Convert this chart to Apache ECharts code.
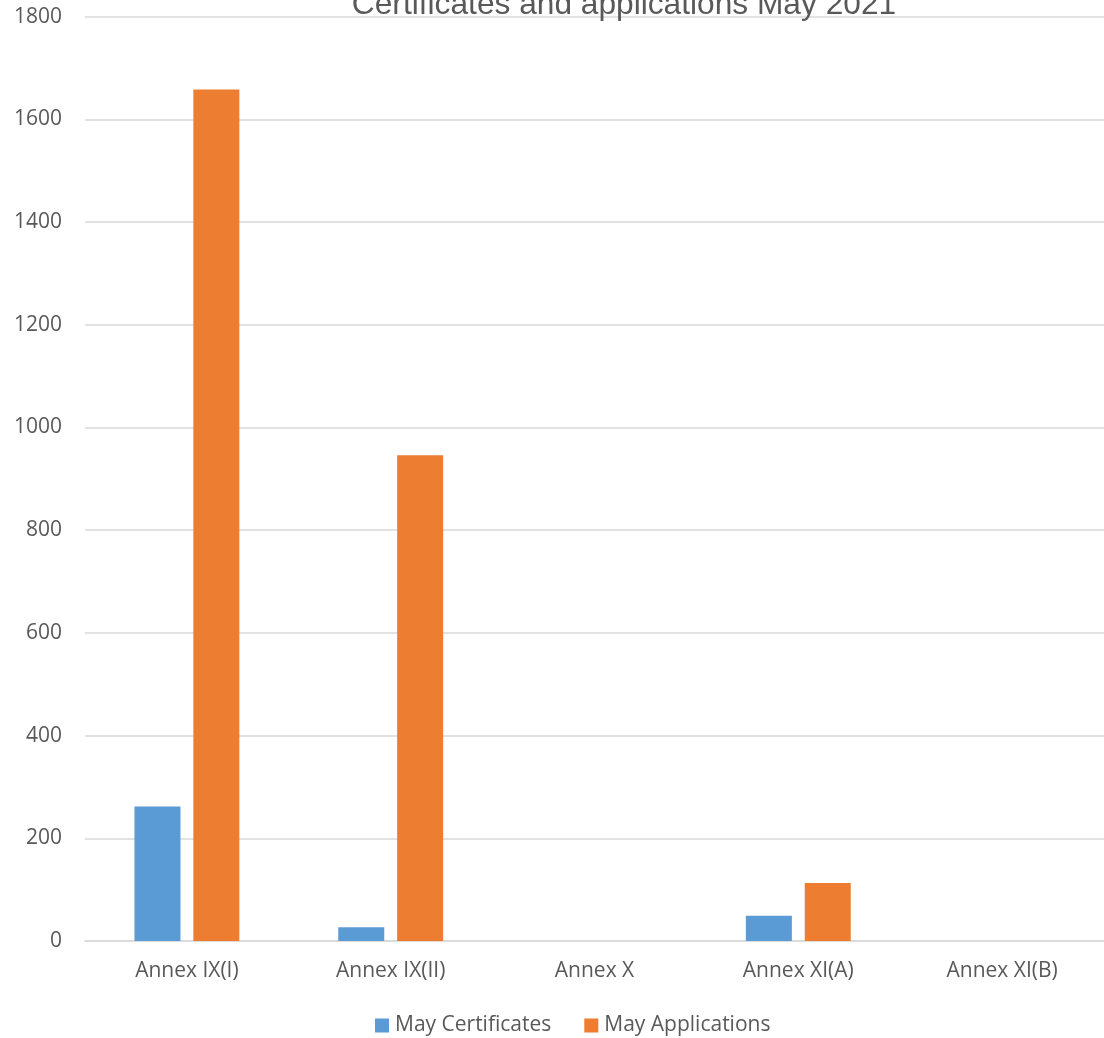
<!DOCTYPE html>
<html>
<head>
<meta charset="utf-8">
<script src="https://cdn.jsdelivr.net/npm/echarts@6/dist/echarts.min.js"></script>
<style>
html,body{margin:0;padding:0;background:#fff;}
#chart{width:1104px;height:1038px;}
</style>
</head>
<body>
<div id="chart"></div>
<script>
const titleText = 'Certificates and applications May 2021';
const categories = ['Annex IX(I)', 'Annex IX(II)', 'Annex X', 'Annex XI(A)', 'Annex XI(B)'];
const seriesNames = ['May Certificates', 'May Applications'];
const certificates = [262, 27, 0, 49, 0];
const applications = [1658, 946, 0, 113, 0];
const yMin = 0, yMax = 1800, yStep = 200;

const textColor = '#595959';
const labelFont = '"Open Sans", "Noto Sans", sans-serif';

const chart = echarts.init(document.getElementById('chart'), null, {renderer: 'canvas'});
chart.setOption({
  backgroundColor: '#ffffff',
  animation: false,
  title: {
    text: titleText,
    left: 624,
    top: -11,
    padding: 0,
    textAlign: 'center',
    textStyle: {fontFamily: '"Liberation Sans", Arial, sans-serif', fontSize: 31.7, fontWeight: 'normal', color: textColor}
  },
  legend: {
    data: seriesNames,
    left: 375,
    top: 1015,
    padding: 0,
    itemWidth: 14,
    itemHeight: 14,
    itemGap: 33,
    icon: 'rect',
    textStyle: {fontFamily: labelFont, fontSize: 21, color: textColor, padding: [0, 0, 0, 1]}
  },
  grid: {left: 85, right: 0, top: 16.6, bottom: 97, containLabel: false},
  xAxis: {
    type: 'category',
    data: categories,
    axisLine: {show: true, lineStyle: {color: '#d9d9d9', width: 1.5}},
    axisTick: {show: false},
    axisLabel: {fontFamily: labelFont, fontSize: 21, color: textColor, margin: 20}
  },
  yAxis: {
    type: 'value',
    min: yMin, max: yMax, interval: yStep,
    axisLine: {show: false},
    axisTick: {show: false},
    splitLine: {lineStyle: {color: '#d9d9d9', width: 1.5}},
    axisLabel: {fontFamily: labelFont, fontSize: 21, color: textColor, margin: 23,
      formatter: function (v) { return String(v); }}
  },
  series: [
    {
      name: seriesNames[0], type: 'bar', data: certificates,
      barWidth: 46, barGap: '28%',
      itemStyle: {color: '#5B9BD5'}
    },
    {
      name: seriesNames[1], type: 'bar', data: applications,
      barWidth: 46, barGap: '28%',
      itemStyle: {color: '#ED7D31'}
    }
  ]
});
</script>
</body>
</html>
